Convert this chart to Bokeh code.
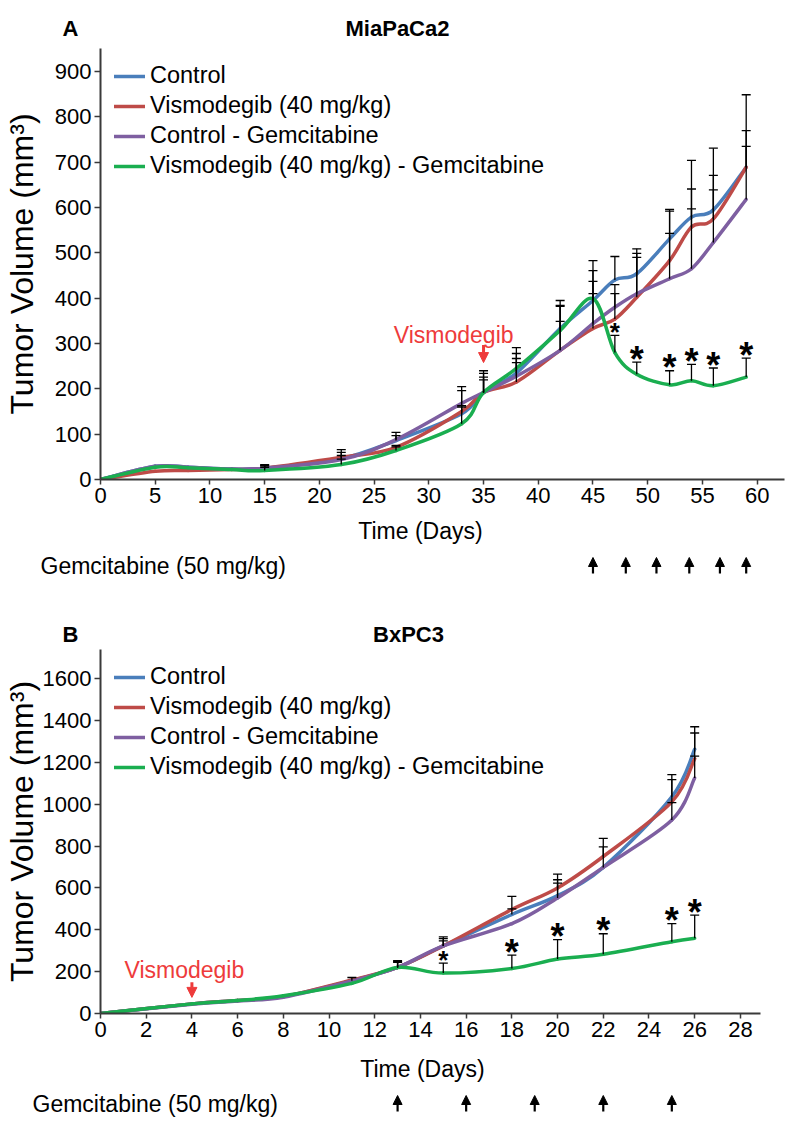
import numpy as np
from bokeh.plotting import figure
from bokeh.models import (ColumnDataSource, Range1d, Label, Legend, LegendItem,
                          Whisker, TeeHead, Arrow, NormalHead, FixedTicker)
from bokeh.layouts import column, row
from bokeh.embed import file_html
from bokeh.resources import INLINE
from bokeh.core.properties import value

FONT = "Liberation Sans"
NAN = float("nan")
W = 800
LEFT, RIGHT = 100, 16          # same frame borders for every main figure

SERIES = ["Control", "Vismodegib (40 mg/kg)", "Control - Gemcitabine",
          "Vismodegib (40 mg/kg) - Gemcitabine"]
COLORS = ["#4A7EBB", "#BE4B48", "#7E5FA1", "#1AAE50"]
RED = "#EE3B3B"

# ---------------- Panel A : MiaPaCa2 ----------------
days_a = [0, 5, 8, 12, 15, 22, 27, 33, 35, 38, 42, 45, 47, 49, 52, 54, 56, 59]
ctrl_a = [0, 29, 27, 23, 25, 46, 86, 145, 192, 235, 333, 395, 440, 454, 531, 579, 595, 689]
vis_a = [0, 18, 20, 22, 25, 49, 71, 150, 192, 215, 285, 333, 354, 402, 483, 557, 575, 689]
cgem_a = [0, 29, 27, 23, 25, 44, 88, 168, 192, 228, 285, 344, 380, 410, 443, 465, 523, 618]
vgem_a = [0, 27, 26, 22, 20, 33, 64, 123, 192, 245, 329, 399, 280, 232, 209, 218, 207, 226]
ctrl_a_top = [NAN, NAN, NAN, NAN, 33, 60, 104, 205, 240, 278, 395, 483, 492, 509, 596, 704, 731, 849]
vis_a_top = [NAN, NAN, NAN, NAN, 31, 66, 75, 163, 234, 258, 349, 437, 430, 499, 592, 641, 671, 770]
cgem_a_top = [NAN, NAN, NAN, NAN, 30, 53, 97, 196, 226, 267, 382, 461, 410, 490, 543, 597, 639, 735]
vgem_a_top = [NAN, NAN, NAN, NAN, 27, 45, 72, 160, 220, 291, 384, 410, 318, 259, 240, 254, 246, 268]
star_days_a = [47, 49, 52, 54, 56, 59]
gem_days_a = [45, 48, 50.8, 53.8, 56.6, 59]
xticks_a = list(range(0, 61, 5))
yticks_a = list(range(0, 901, 100))

# ---------------- Panel B : BxPC3 ----------------
days_b = [0, 4, 6, 8, 11, 13, 15, 18, 20, 22, 25, 26]
ctrl_b = [0, 46, 62, 81, 157, 220, 323, 473, 563, 698, 1035, 1262]
vis_b = [0, 46, 62, 81, 160, 220, 323, 497, 600, 750, 1011, 1217]
cgem_b = [0, 44, 60, 78, 155, 220, 323, 429, 552, 698, 924, 1125]
vgem_b = [0, 46, 62, 85, 144, 220, 193, 215, 260, 283, 343, 359]
ctrl_b_top = [NAN, NAN, NAN, NAN, 172, 252, 358, 500, 639, 796, 1141, 1370]
vis_b_top = [NAN, NAN, NAN, NAN, NAN, 248, 366, 560, 666, 837, 1117, 1340]
cgem_b_top = [NAN, NAN, NAN, NAN, NAN, 244, 347, NAN, 623, NAN, 1007, 1230]
vgem_b_top = [NAN, NAN, NAN, NAN, NAN, NAN, 241, 279, 353, 381, 429, 470]
star_days_b = [15, 18, 20, 22, 25, 26]
gem_days_b = [13, 16, 19, 22, 25]
xticks_b = list(range(0, 29, 2))
yticks_b = list(range(0, 1601, 200))


def smooth_bezier(p, xs, ys, color):
    """Excel-like smoothed line: Catmull-Rom control points, drawn as Bezier glyphs."""
    x = np.asarray(xs, float)
    y = np.asarray(ys, float)
    n = len(x)
    xp = np.concatenate([[x[0]], x, [x[-1]]])
    yp = np.concatenate([[y[0]], y, [y[-1]]])
    src = ColumnDataSource(dict(
        x0=x[:-1], y0=y[:-1], x1=x[1:], y1=y[1:],
        cx0=xp[1:n] + (xp[2:n + 1] - xp[0:n - 1]) / 6.0,
        cy0=yp[1:n] + (yp[2:n + 1] - yp[0:n - 1]) / 6.0,
        cx1=xp[2:n + 1] - (xp[3:n + 2] - xp[1:n]) / 6.0,
        cy1=yp[2:n + 1] - (yp[3:n + 2] - yp[1:n]) / 6.0,
    ))
    return p.bezier(x0="x0", y0="y0", x1="x1", y1="y1", cx0="cx0", cy0="cy0",
                    cx1="cx1", cy1="cy1", source=src, line_color=color,
                    line_width=3.5, line_cap="round")


def error_bars(p, xs, ys, tops):
    keep = [i for i, t in enumerate(tops) if not np.isnan(t)]
    src = ColumnDataSource(dict(base=[xs[i] for i in keep],
                                lower=[ys[i] for i in keep],
                                upper=[tops[i] for i in keep]))
    w = Whisker(source=src, base="base", lower="lower", upper="upper",
                dimension="height", line_color="black", line_width=1.3,
                upper_head=TeeHead(size=9, line_color="black", line_width=1.3),
                lower_head=None, level="glyph")
    p.add_layout(w)


def stars(p, xs, tops, star_days):
    sy = [tops[xs.index(d)] for d in star_days]
    sizes = ["26px"] + ["36px"] * (len(star_days) - 1)
    src = ColumnDataSource(dict(x=star_days, y=sy, t=["*"] * len(star_days), s=sizes))
    p.text(x="x", y="y", text="t", source=src, text_font=value(FONT),
           text_font_style="bold", text_font_size="s", text_align="center",
           text_baseline="alphabetic", y_offset=-3, text_color="black")


def main_figure(days, series, tops, xticks, yticks, xmax, xbound, ymax, height,
                border_top, border_bottom, vis_x, vis_y, arrow_x, arrow_y0,
                arrow_y1, star_days, ylabel_standoff):
    p = figure(width=W, height=height, x_range=Range1d(0, xmax),
               y_range=Range1d(0, ymax), output_backend="svg",
               toolbar_location=None, min_border_top=border_top,
               min_border_bottom=border_bottom, min_border_left=LEFT,
               min_border_right=RIGHT, outline_line_color=None)
    p.grid.visible = False
    for ax in (p.xaxis[0], p.yaxis[0]):
        ax.axis_line_color = "#3a3a3a"
        ax.axis_line_width = 2
        ax.major_tick_line_color = "#3a3a3a"
        ax.major_tick_line_width = 1.5
        ax.minor_tick_line_color = None
        ax.major_tick_in = 0
        ax.major_label_text_font = FONT
        ax.major_label_text_color = "black"
        ax.major_label_text_font_size = "22px"
    p.xaxis.ticker = FixedTicker(ticks=xticks)
    p.yaxis.ticker = FixedTicker(ticks=yticks)
    p.xaxis.bounds = (0, xbound)
    p.xaxis.major_tick_out = 5
    p.xaxis.major_label_standoff = 3
    p.yaxis.major_tick_out = 6
    p.yaxis.major_label_standoff = 3
    p.yaxis.axis_label = "Tumor Volume (mm\u00b3)"
    p.yaxis.axis_label_text_font = FONT
    p.yaxis.axis_label_text_font_style = "normal"
    p.yaxis.axis_label_text_font_size = "32px"
    p.yaxis.axis_label_text_color = "black"
    p.yaxis.axis_label_standoff = ylabel_standoff

    renderers = []
    for ys, col in zip(series, COLORS):
        renderers.append(smooth_bezier(p, days, ys, col))
    for ys, tp in zip(series, tops):
        error_bars(p, days, ys, tp)
    stars(p, days, tops[3], star_days)

    legend = Legend(items=[LegendItem(label=s, renderers=[r])
                           for s, r in zip(SERIES, renderers)],
                    location="top_left", margin=14, padding=8,
                    label_text_font=FONT, label_text_font_size="23.5px",
                    label_text_color="black", glyph_width=31, glyph_height=20,
                    label_height=26, spacing=3, label_standoff=5,
                    border_line_color=None, background_fill_alpha=0)
    p.add_layout(legend)

    p.add_layout(Label(x=vis_x, y=vis_y, text="Vismodegib", text_font=FONT,
                       text_font_size="23px", text_color=RED,
                       text_align="left", text_baseline="alphabetic"))
    p.add_layout(Arrow(x_start=arrow_x, y_start=arrow_y0, x_end=arrow_x,
                       y_end=arrow_y1, line_color=RED, line_width=3,
                       end=NormalHead(size=10, fill_color=RED, line_color=RED,
                                      line_width=1)))
    return p


def blank_strip(height, x_range):
    s = figure(width=W, height=height, x_range=x_range,
               y_range=Range1d(0, height), output_backend="svg",
               toolbar_location=None, x_axis_type=None, y_axis_type=None,
               min_border_top=0, min_border_bottom=0, min_border_left=0,
               min_border_right=0, outline_line_color=None)
    s.grid.visible = False
    return s


def header(height, letter, title, letter_x, title_x, text_y):
    s = blank_strip(height, Range1d(0, W))
    s.add_layout(Label(x=letter_x, y=text_y, x_units="screen", y_units="screen",
                       text=letter, text_font=FONT, text_font_style="bold",
                       text_font_size="22px", text_align="center",
                       text_baseline="middle", text_color="black"))
    s.add_layout(Label(x=title_x, y=text_y, x_units="screen", y_units="screen",
                       text=title, text_font=FONT, text_font_style="bold",
                       text_font_size="22px", text_align="center",
                       text_baseline="middle", text_color="black"))
    return s


def footer(height, p_main, gem_days, time_x, time_y, gem_x, gem_y,
           arrow_lo, arrow_hi):
    # x range extended so that day positions line up with the main frame
    r = p_main.x_range
    k = (r.end - r.start) / (W - LEFT - RIGHT)
    s = blank_strip(height, Range1d(r.start - LEFT * k, r.end + RIGHT * k))
    s.add_layout(Label(x=time_x, y=time_y, x_units="screen", y_units="screen",
                       text="Time (Days)", text_font=FONT,
                       text_font_size="23px", text_align="center",
                       text_baseline="middle", text_color="black"))
    s.add_layout(Label(x=gem_x, y=gem_y, x_units="screen", y_units="screen",
                       text="Gemcitabine (50 mg/kg)", text_font=FONT,
                       text_font_size="23px", text_align="left",
                       text_baseline="middle", text_color="black"))
    n = len(gem_days)
    src = ColumnDataSource(dict(x=gem_days, y0=[arrow_lo] * n, y1=[arrow_hi] * n))
    s.add_layout(Arrow(x_start="x", y_start="y0", x_end="x", y_end="y1",
                       source=src, line_color="black", line_width=2.2,
                       end=NormalHead(size=9, fill_color="black",
                                      line_color="black", line_width=1)))
    return s


# ---- Panel A (image rows 0..595) ----
hA = header(40, "A", "MiaPaCa2", 70, 397, 12)
pA = main_figure(days_a, [ctrl_a, vis_a, cgem_a, vgem_a],
                 [ctrl_a_top, vis_a_top, cgem_a_top, vgem_a_top],
                 xticks_a, yticks_a, 62.5, 62.5, 951, 475, 8, 36,
                 26.8, 318, 35, 297, 258, star_days_a, 12)
fA = footer(80, pA, gem_days_a, 420, 65, 40, 30, 22, 38)

# ---- Panel B (image rows 595..1130) ----
hB = header(54, "B", "BxPC3", 70, 408, 15)
pB = main_figure(days_b, [ctrl_b, vis_b, cgem_b, vgem_b],
                 [ctrl_b_top, vis_b_top, cgem_b_top, vgem_b_top],
                 xticks_b, yticks_b, 29.93, 28.9, 1739, 400, 0, 36,
                 1.05, 209, 4, 149, 77, star_days_b, 0)
fB = footer(80, pB, gem_days_b, 422, 61, 32, 26, 18, 34)

layout = column(*[row(f) for f in (hA, pA, fA, hB, pB, fB)], spacing=0)
open("out.html", "w").write(file_html(layout, INLINE))
